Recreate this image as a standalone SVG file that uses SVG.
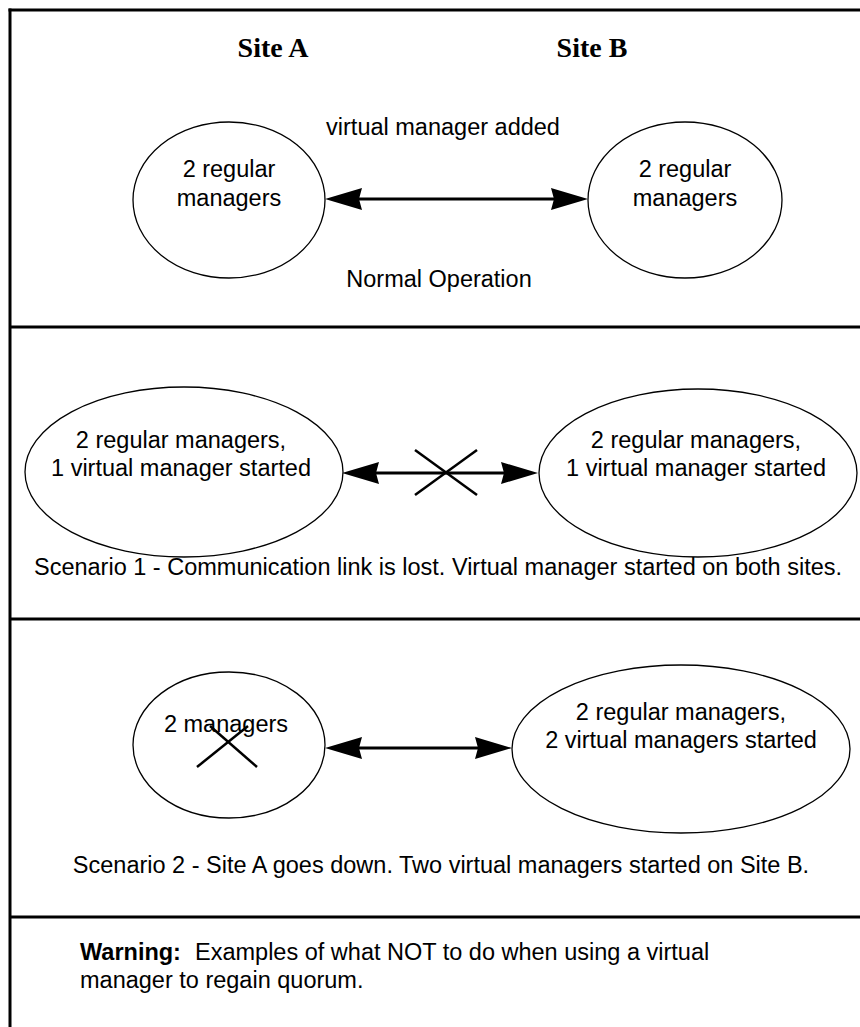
<svg xmlns="http://www.w3.org/2000/svg" width="860" height="1027" viewBox="0 0 860 1027">
<style>
  .frame { stroke: #000; stroke-width: 3; fill: none; }
  .node { fill: #fff; stroke: #000; stroke-width: 1.3; }
  .t { font-family: "Liberation Sans", Arial, sans-serif; font-size: 23.5px; fill: #000; }
  .site { font-family: "Liberation Serif", "Times New Roman", serif; font-size: 28px; font-weight: bold; fill: #000; }
  .b { font-weight: bold; }
  .conn { stroke: #000; stroke-width: 3; fill: none; }
  .cross { stroke: #000; stroke-width: 2.5; fill: none; }
</style>
<defs>
  <marker id="ah" viewBox="-8 -12 40 24" refX="0" refY="0" markerWidth="40" markerHeight="24" markerUnits="userSpaceOnUse" orient="auto-start-reverse" overflow="visible">
    <path d="M30,0 L-7,-11 L-4,0 L-7,11 Z" fill="#000"/>
  </marker>
</defs>
<rect x="0" y="0" width="860" height="1027" fill="#fff"/>
<g id="frame">
  <line class="frame" x1="10" y1="8.5" x2="10" y2="1027"/>
  <line class="frame" x1="8.5" y1="10" x2="860" y2="10"/>
  <line class="frame" x1="10" y1="327" x2="860" y2="327"/>
  <line class="frame" x1="10" y1="619" x2="860" y2="619"/>
  <line class="frame" x1="10" y1="917" x2="860" y2="917"/>
</g>
<g id="labels">
  <text class="site" x="273" y="57" text-anchor="middle">Site A</text>
  <text class="site" x="592" y="57" text-anchor="middle">Site B</text>
  <text class="t" x="443" y="135" text-anchor="middle">virtual manager added</text>
  <text class="t" x="439" y="287" text-anchor="middle">Normal Operation</text>
  <text class="t" x="438" y="575" text-anchor="middle">Scenario 1 - Communication link is lost. Virtual manager started on both sites.</text>
  <text class="t" x="441" y="873" text-anchor="middle">Scenario 2 - Site A goes down. Two virtual managers started on Site B.</text>
  <text class="t" x="80" y="960"><tspan class="b">Warning:</tspan><tspan x="195">Examples of what NOT to do when using a virtual</tspan></text>
  <text class="t" x="80" y="988">manager to regain quorum.</text>
</g>
<g id="connectors">
  <line class="conn" x1="355" y1="199" x2="558" y2="199" marker-start="url(#ah)" marker-end="url(#ah)"/>
  <line class="conn" x1="372" y1="473" x2="508" y2="473" marker-start="url(#ah)" marker-end="url(#ah)"/>
  <line class="conn" x1="355" y1="748" x2="482" y2="748" marker-start="url(#ah)" marker-end="url(#ah)"/>
</g>
<g id="s0-siteA">
  <ellipse class="node" cx="229" cy="200" rx="96" ry="78"/>
  <text class="t" x="229" y="177" text-anchor="middle">2 regular</text>
  <text class="t" x="229" y="206" text-anchor="middle">managers</text>
</g>
<g id="s0-siteB">
  <ellipse class="node" cx="685" cy="200" rx="97" ry="78"/>
  <text class="t" x="685" y="177" text-anchor="middle">2 regular</text>
  <text class="t" x="685" y="206" text-anchor="middle">managers</text>
</g>
<g id="s1-siteA">
  <ellipse class="node" cx="184" cy="472" rx="159" ry="85"/>
  <text class="t" x="181" y="448" text-anchor="middle">2 regular managers,</text>
  <text class="t" x="181" y="476" text-anchor="middle">1 virtual manager started</text>
</g>
<g id="s1-siteB">
  <ellipse class="node" cx="698" cy="473" rx="159" ry="84"/>
  <text class="t" x="696" y="448" text-anchor="middle">2 regular managers,</text>
  <text class="t" x="696" y="476" text-anchor="middle">1 virtual manager started</text>
</g>
<g id="s1-linkcross">
  <line class="cross" x1="415" y1="450" x2="477" y2="495"/>
  <line class="cross" x1="415" y1="495" x2="477" y2="450"/>
</g>
<g id="s2-siteA">
  <ellipse class="node" cx="229" cy="745" rx="96" ry="73"/>
  <text class="t" x="226" y="732" text-anchor="middle">2 managers</text>
  <line class="cross" x1="197" y1="767" x2="248" y2="726"/>
  <line class="cross" x1="210" y1="726" x2="257" y2="767"/>
</g>
<g id="s2-siteB">
  <ellipse class="node" cx="681" cy="749" rx="169" ry="84"/>
  <text class="t" x="681" y="720" text-anchor="middle">2 regular managers,</text>
  <text class="t" x="681" y="748" text-anchor="middle">2 virtual managers started</text>
</g>
</svg>
